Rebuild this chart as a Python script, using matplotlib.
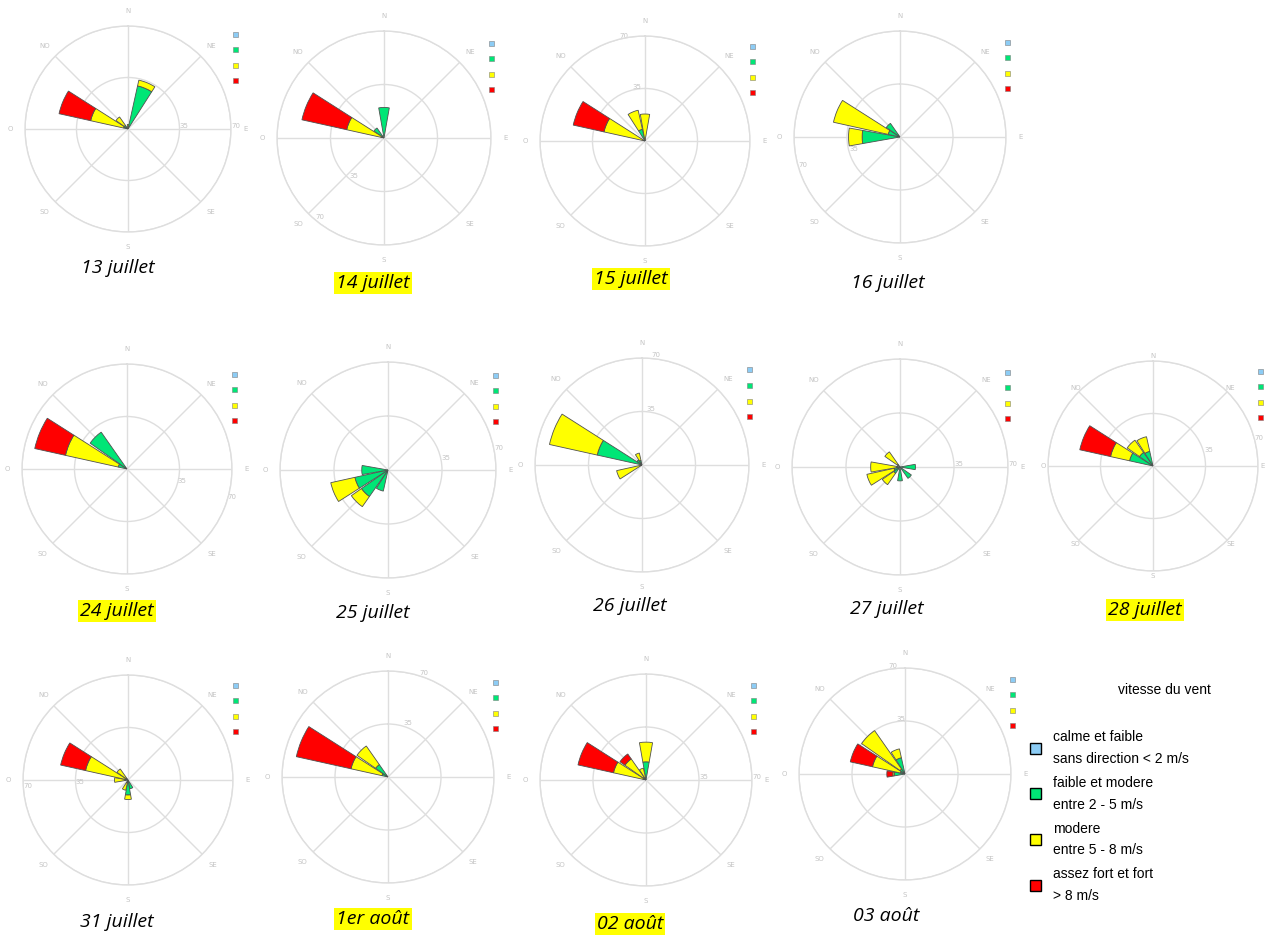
import matplotlib.pyplot as plt
import numpy as np

W, H = 1265, 936

days = ["13 juillet", "14 juillet", "15 juillet", "16 juillet",
        "24 juillet", "25 juillet", "26 juillet", "27 juillet", "28 juillet",
        "31 juillet", "1er août", "02 août", "03 août"]
highlighted = ["14 juillet", "15 juillet", "24 juillet", "28 juillet", "1er août", "02 août"]

# 16 sectors, clockwise from north
sectors = ["N", "NNE", "NE", "ENE", "E", "ESE", "SE", "SSE",
           "S", "SSO", "SO", "OSO", "O", "ONO", "NO", "NNO"]
compass = ["N", "NE", "E", "SE", "S", "SO", "O", "NO"]

# frequency (%) per sector, one row per day
green = [
    [1, 30, 0, 0, 0, 0, 0, 0, 0, 0, 0, 0, 0, 3, 3, 0],
    [20, 0, 0, 0, 0, 0, 0, 0, 0, 0, 0, 0, 0, 2, 8, 0],
    [1, 0, 0, 0, 0, 0, 0, 0, 0, 0, 0, 0, 0, 1, 0, 8],
    [0, 0, 0, 0, 0, 0, 0, 0, 0, 0, 0, 0, 25, 8, 11, 0],
    [0, 0, 0, 0, 0, 0, 0, 0, 0, 0, 0, 0, 0, 6, 30, 0],
    [0, 0, 0, 0, 0, 0, 0, 0, 0, 14, 21, 22, 17, 0, 0, 0],
    [0, 0, 0, 0, 0, 0, 0, 0, 0, 0, 0, 1, 0, 30, 4, 3],
    [0, 0, 0, 0, 10, 0, 9, 0, 9, 0, 5, 4, 2, 0, 2, 0],
    [0, 0, 0, 0, 0, 0, 0, 0, 0, 0, 0, 0, 0, 16, 11, 10],
    [0, 0, 0, 0, 0, 0, 0, 6, 10, 2, 0, 0, 2, 2, 1, 0],
    [0, 0, 0, 0, 0, 0, 0, 0, 0, 0, 0, 0, 0, 4, 10, 0],
    [12, 0, 0, 0, 0, 0, 0, 0, 0, 0, 0, 0, 0, 2, 2, 1],
    [0, 0, 0, 0, 0, 0, 0, 0, 0, 0, 0, 0, 7, 3, 4, 11],
]
yellow = [
    [2, 4, 0, 0, 0, 0, 0, 0, 0, 0, 0, 0, 0, 23, 7, 0],
    [0, 0, 0, 0, 0, 0, 0, 0, 0, 0, 0, 0, 0, 23, 0, 0],
    [17, 0, 0, 0, 0, 0, 0, 0, 0, 0, 0, 0, 0, 27, 0, 13],
    [0, 0, 0, 0, 0, 0, 0, 0, 0, 0, 0, 0, 9, 37, 0, 0],
    [0, 0, 0, 0, 0, 0, 0, 0, 0, 0, 0, 0, 0, 36, 0, 0],
    [0, 0, 0, 0, 0, 0, 0, 0, 0, 0, 8, 16, 0, 0, 0, 0],
    [0, 0, 0, 0, 0, 0, 0, 0, 0, 0, 0, 16, 0, 32, 0, 5],
    [0, 0, 0, 0, 0, 0, 0, 0, 0, 0, 9, 18, 17, 0, 10, 0],
    [0, 0, 0, 0, 0, 0, 0, 0, 0, 0, 0, 0, 0, 13, 10, 10],
    [0, 0, 0, 0, 0, 0, 0, 0, 3, 5, 0, 0, 7, 27, 8, 0],
    [0, 0, 0, 0, 0, 0, 0, 0, 0, 0, 0, 0, 0, 21, 15, 0],
    [13, 0, 0, 0, 0, 0, 0, 0, 0, 0, 0, 0, 0, 20, 15, 7],
    [0, 0, 0, 0, 0, 0, 0, 0, 0, 0, 0, 0, 1, 19, 31, 6],
]
red = [
    [0, 0, 0, 0, 0, 0, 0, 0, 0, 0, 0, 0, 0, 22, 0, 0],
    [0, 0, 0, 0, 0, 0, 0, 0, 0, 0, 0, 0, 0, 30, 0, 0],
    [0, 0, 0, 0, 0, 0, 0, 0, 0, 0, 0, 0, 0, 21, 0, 0],
    [0, 0, 0, 0, 0, 0, 0, 0, 0, 0, 0, 0, 0, 0, 0, 0],
    [0, 0, 0, 0, 0, 0, 0, 0, 0, 0, 0, 0, 0, 21, 0, 0],
    [0, 0, 0, 0, 0, 0, 0, 0, 0, 0, 0, 0, 0, 0, 0, 0],
    [0, 0, 0, 0, 0, 0, 0, 0, 0, 0, 0, 0, 0, 0, 0, 0],
    [0, 0, 0, 0, 0, 0, 0, 0, 0, 0, 0, 0, 0, 0, 0, 0],
    [0, 0, 0, 0, 0, 0, 0, 0, 0, 0, 0, 0, 0, 21, 0, 0],
    [0, 0, 0, 0, 0, 0, 0, 0, 0, 0, 0, 0, 0, 17, 0, 0],
    [0, 0, 0, 0, 0, 0, 0, 0, 0, 0, 0, 0, 0, 37, 0, 0],
    [0, 0, 0, 0, 0, 0, 0, 0, 0, 0, 0, 0, 0, 24, 4, 0],
    [0, 0, 0, 0, 0, 0, 0, 0, 0, 0, 0, 0, 4, 15, 0, 0],
]

legend_labels = ["calme et faible\nsans direction < 2 m/s",
                 "faible et modere\nentre 2 - 5 m/s",
                 "modere\nentre 5 - 8 m/s",
                 "assez fort et fort\n> 8 m/s"]
colors = ["#8cccf5", "#00e676", "#ffff00", "#ff0000"]

# rose centre / radius and caption position, in pixels
centers = [(128, 129, 103), (384, 138, 107), (645, 141, 105), (900, 137, 106),
           (127, 469, 105), (388, 470, 108), (642, 465, 107), (900, 467, 108), (1153, 466, 105),
           (128, 780, 105), (388, 777, 106), (646, 780, 106), (905, 774, 106)]
captions = [(118, 268), (373, 283), (631, 279), (888, 283),
            (117, 611), (373, 613), (630, 606), (887, 609), (1145, 610),
            (117, 922), (373, 919), (630, 924), (886, 916)]
rlabel_pos = [90, 220, 346, 253, 107, 80, 5, 90, 76, 265, 17, 90, 351]

GRID = "#dedede"
FAINT = "#c4c4c4"

fig = plt.figure(figsize=(W / 100, H / 100), dpi=100)


def fx(x):
    return x / W


def fy(y):
    return 1 - y / H


theta = np.deg2rad(np.arange(16) * 22.5)
width = np.deg2rad(20)

for i, day in enumerate(days):
    cx, cy, R = centers[i]
    ax = fig.add_axes([fx(cx - R), fy(cy + R), 2 * R / W, 2 * R / H], projection="polar")
    ax.set_theta_zero_location("N")
    ax.set_theta_direction(-1)

    g = np.array(green[i], dtype=float)
    y = np.array(yellow[i], dtype=float)
    r = np.array(red[i], dtype=float)
    bottom = np.zeros(16)
    for vals, col in [(g, colors[1]), (y, colors[2]), (r, colors[3])]:
        m = vals > 0
        ax.bar(theta[m], vals[m], width=width, bottom=bottom[m], color=col,
               edgecolor="#505050", linewidth=0.6, zorder=3)
        bottom = bottom + vals

    ax.set_ylim(0, 70)
    ax.set_yticks([35, 70])
    ax.set_yticklabels(["35", "70"], fontsize=5, color=FAINT)
    ax.set_rlabel_position(rlabel_pos[i])
    ax.set_xticks(np.deg2rad(np.arange(0, 360, 45)))
    ax.set_xticklabels(compass, fontsize=5, color=FAINT)
    # the right-most rose touches the page edge: pull its labels inside
    ax.tick_params(axis="x", pad=-7 if cx + R + 10 > W else 0)
    ax.grid(color=GRID, linewidth=1)
    ax.spines["polar"].set_color(GRID)
    ax.spines["polar"].set_linewidth(1)

    # small per-rose legend squares
    for k, col in enumerate(colors):
        fig.patches.append(plt.Rectangle((fx(cx + 105), fy(cy - 95 + k * 15.5 + 2.5)),
                                         5 / W, 5 / H, transform=fig.transFigure,
                                         facecolor=col, edgecolor="#808080", linewidth=0.4))

    tx, ty = captions[i]
    box = None
    if day in highlighted:
        box = dict(facecolor="#ffff00", edgecolor="none", pad=1.5)
    fig.text(fx(tx), fy(ty), day, ha="center", va="center", fontsize=14,
             style="italic", family="Open Sans", bbox=box)

# main legend
fig.text(fx(1164), fy(690), "vitesse du vent", ha="center", va="center",
         fontsize=10, family="Liberation Sans")
for k, (lab, col) in enumerate(zip(legend_labels, colors)):
    ym = 748 + k * 45.7
    fig.patches.append(plt.Rectangle((fx(1030), fy(ym + 5.5)), 11 / W, 11 / H,
                                     transform=fig.transFigure, facecolor=col,
                                     edgecolor="black", linewidth=1))
    fig.text(fx(1053), fy(ym), lab, ha="left", va="center", fontsize=10,
             family="Liberation Sans", linespacing=1.7)

plt.savefig("out.png", dpi=100)
